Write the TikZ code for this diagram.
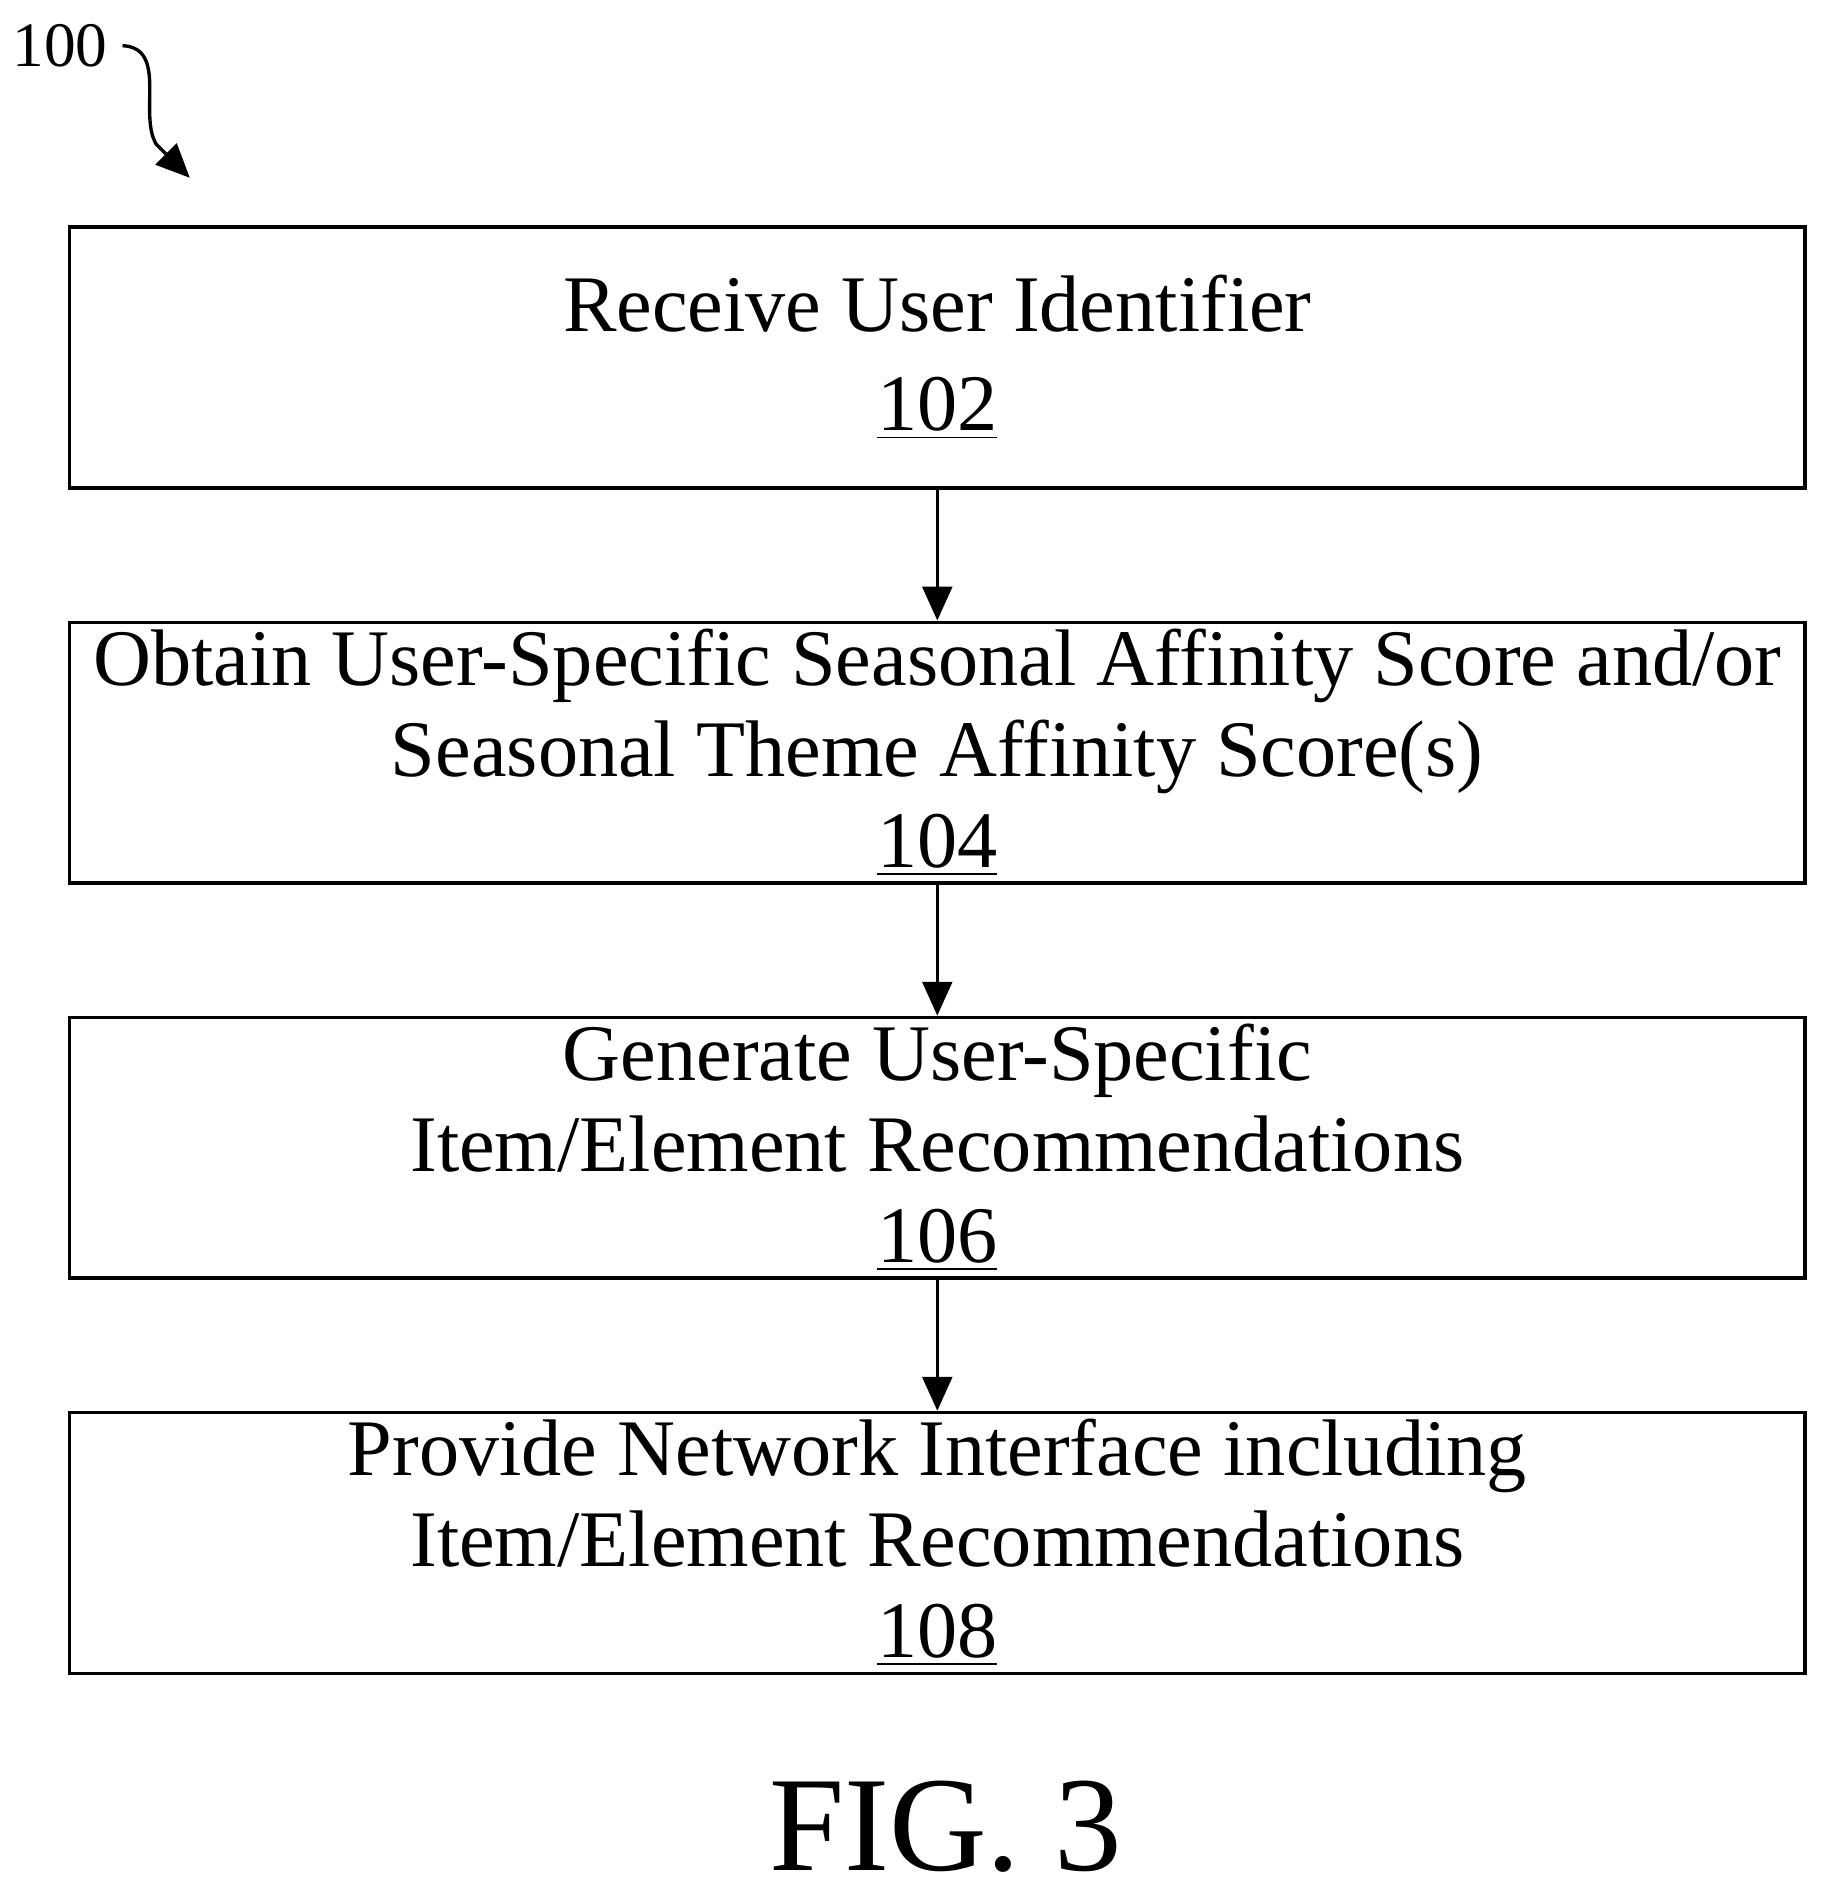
\documentclass[tikz,border=0pt]{standalone}
\usepackage{fontspec}
\setmainfont{Liberation Serif}
\usetikzlibrary{positioning,arrows.meta}

\begin{document}
\begin{tikzpicture}
[stepbox/.style={draw,thick,minimum width=14.44cm,minimum height=2.17cm,align=center,
  font=\fontsize{19}{21.5}\selectfont,inner sep=0pt},
 flow/.style={-{Triangle[length=8pt,width=7pt]},thick}]
\useasboundingbox (0,0) rectangle (15.30,-15.77);
\node[font=\fontsize{15}{18}\selectfont] (num) at (0.50,-0.38) {100};
\coordinate (tip) at (1.58,-1.48);
\node[stepbox] (s102) at (7.80,-2.975) {Receive User Identifier\\[2pt]\underline{102}};
\node[stepbox,below=1.09cm of s102] (s104) {Obtain User-Specific Seasonal Affinity Score and/or\\Seasonal Theme Affinity Score(s)\\\underline{104}};
\node[stepbox,below=1.09cm of s104] (s106) {Generate User-Specific\\Item/Element Recommendations\\\underline{106}};
\node[stepbox,below=1.09cm of s106] (s108) {Provide Network Interface including\\Item/Element Recommendations\\\underline{108}};
\node[font=\fontsize{32}{36}\selectfont] (fig) at (7.87,-15.20) {FIG. 3};
\draw[flow] (s102) -- (s104);
\draw[flow] (s104) -- (s106);
\draw[flow] (s106) -- (s108);
\draw[flow] (num.east) .. controls (1.40,-0.40) and (1.15,-0.95) .. (1.30,-1.20) -- (tip);
\end{tikzpicture}
\end{document}
